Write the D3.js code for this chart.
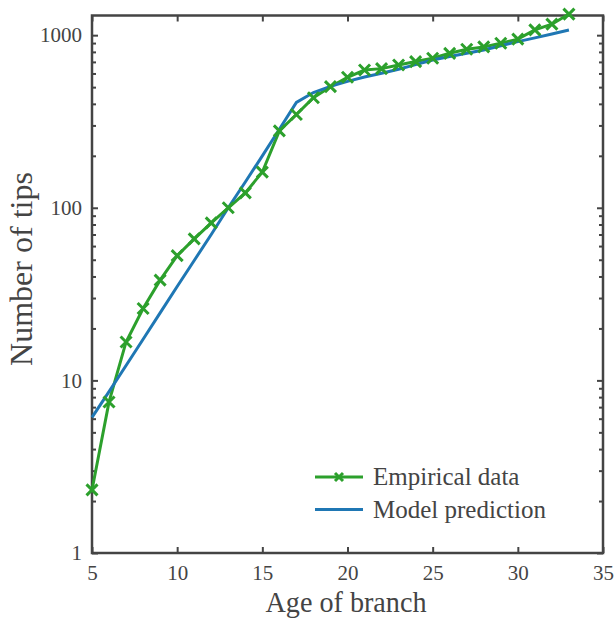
<!DOCTYPE html>
<html>
<head>
<meta charset="utf-8">
<script src="https://cdn.jsdelivr.net/npm/d3@7"></script>
<style>
  body { margin: 0; background: #fff; }
  text { font-family: "Liberation Serif", "Times New Roman", serif; fill: #444; }
</style>
</head>
<body>
<div id="chart"></div>
<script>
// age of branch
var ages = [5, 6, 7, 8, 9, 10, 11, 12, 13, 14, 15, 16, 17, 18, 19, 20, 21, 22, 23, 24, 25, 26, 27, 28, 29, 30, 31, 32, 33];
// empirical number of tips
var empirical = [2.32, 7.5, 16.7, 26.1, 38.1, 52.8, 66, 81.8, 100, 122, 161, 279, 347, 434, 503, 570, 628, 640, 672, 703, 735, 785, 829, 855, 898, 948, 1074, 1158, 1325];
// model prediction
var model = [6.1, 8.6, 12.2, 17.3, 24.6, 35, 49.5, 70, 100, 141, 200, 285, 408, 465, 505, 540, 572, 602, 635, 675, 718, 752, 786, 821, 868, 917, 965, 1015, 1072];

var xTicks = [5, 10, 15, 20, 25, 30, 35];
var yTicks = [1, 10, 100, 1000];
var legendLabels = ["Empirical data", "Model prediction"];

var margin = {top: 15.5, right: 12, bottom: 66, left: 92},
    width = 615 - margin.left - margin.right,
    height = 619 - margin.top - margin.bottom;

var green = "#2ca02c", blue = "#1f77b4", axisColor = "#444";

var x = d3.scaleLinear().domain([5, 35]).range([0, width]);
var y = d3.scaleLog().domain([1, 1300]).range([height, 0]);

var svg = d3.select("#chart").append("svg")
    .attr("width", 615)
    .attr("height", 619)
  .append("g")
    .attr("transform", "translate(" + margin.left + "," + margin.top + ")");

// minor log ticks
var minor = [];
[1, 10, 100, 1000].forEach(function(d) {
  for (var k = 2; k <= 9; k++) {
    if (d * k <= 1300) minor.push(d * k);
  }
});

function styleAxis(g) {
  g.select(".domain").remove();
  g.selectAll("line").attr("stroke", axisColor).attr("stroke-width", 2);
  g.selectAll("text").style("font-size", "21px").attr("fill", "#444");
}

// bottom axis
svg.append("g")
    .attr("transform", "translate(0," + height + ")")
    .call(d3.axisBottom(x).tickValues(xTicks).tickSize(-6).tickPadding(12).tickFormat(d3.format("d")))
    .call(styleAxis);

// top axis (ticks only)
svg.append("g")
    .call(d3.axisTop(x).tickValues(xTicks).tickSize(-6).tickFormat(""))
    .call(styleAxis);

// left axis
svg.append("g")
    .call(d3.axisLeft(y).tickValues(yTicks).tickSize(-6).tickPadding(10).tickFormat(d3.format("d")))
    .call(styleAxis);
svg.append("g")
    .call(d3.axisLeft(y).tickValues(minor).tickSize(-4).tickFormat(""))
    .call(styleAxis);

// right axis
svg.append("g")
    .attr("transform", "translate(" + width + ",0)")
    .call(d3.axisRight(y).tickValues(yTicks).tickSize(-6).tickFormat(""))
    .call(styleAxis);
svg.append("g")
    .attr("transform", "translate(" + width + ",0)")
    .call(d3.axisRight(y).tickValues(minor).tickSize(-4).tickFormat(""))
    .call(styleAxis);

// box
svg.append("rect")
    .attr("width", width)
    .attr("height", height)
    .attr("fill", "none")
    .attr("stroke", axisColor)
    .attr("stroke-width", 2.5);

// axis titles
svg.append("text")
    .attr("x", 346 - margin.left)
    .attr("y", 612 - margin.top)
    .attr("text-anchor", "middle")
    .attr("textLength", 161)
    .attr("lengthAdjust", "spacingAndGlyphs")
    .style("font-size", "29px")
    .text("Age of branch");

svg.append("text")
    .attr("transform", "rotate(-90)")
    .attr("x", -(269 - margin.top))
    .attr("y", 32 - margin.left)
    .attr("text-anchor", "middle")
    .style("font-size", "32px")
    .text("Number of tips");

var line = d3.line()
    .x(function(d) { return x(d[0]); })
    .y(function(d) { return y(d[1]); });

var empData = ages.map(function(a, i) { return [a, empirical[i]]; });
var modData = ages.map(function(a, i) { return [a, model[i]]; });

svg.append("path")
    .datum(empData)
    .attr("fill", "none")
    .attr("stroke", green)
    .attr("stroke-width", 3)
    .attr("d", line);

svg.append("path")
    .datum(modData)
    .attr("fill", "none")
    .attr("stroke", blue)
    .attr("stroke-width", 3)
    .attr("d", line);

function cross(g, cx, cy, r) {
  g.append("path")
    .attr("d", "M" + (cx - r) + "," + (cy - r) + "L" + (cx + r) + "," + (cy + r) +
               "M" + (cx - r) + "," + (cy + r) + "L" + (cx + r) + "," + (cy - r))
    .attr("stroke", green)
    .attr("stroke-width", 3)
    .attr("fill", "none");
}

var marks = svg.append("g");
empData.forEach(function(d) {
  cross(marks, x(d[0]), y(d[1]), 5.5);
});

// legend
var leg = svg.append("g").attr("transform", "translate(" + (315 - margin.left) + "," + (477 - margin.top) + ")");
leg.append("line").attr("x1", 0).attr("x2", 48).attr("y1", 0).attr("y2", 0)
    .attr("stroke", green).attr("stroke-width", 3);
cross(leg, 24, 0, 4);
leg.append("line").attr("x1", 0).attr("x2", 48).attr("y1", 32.5).attr("y2", 32.5)
    .attr("stroke", blue).attr("stroke-width", 3);
leg.selectAll("text.lab")
    .data(legendLabels)
    .enter().append("text")
    .attr("class", "lab")
    .attr("x", 58)
    .attr("y", function(d, i) { return i * 32.5 + 8; })
    .style("font-size", "25px")
    .text(function(d) { return d; });
</script>
</body>
</html>
